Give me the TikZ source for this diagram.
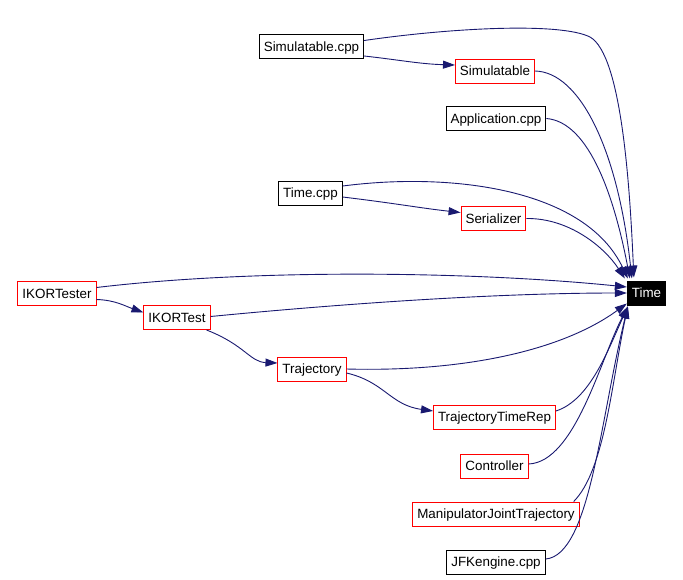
\documentclass[tikz,border=0pt]{standalone}
\usepackage{fontspec}
\setmainfont{Liberation Sans}
\usetikzlibrary{arrows.meta,calc}
\definecolor{edgeblue}{RGB}{25,25,112}
\definecolor{boxred}{RGB}{255,0,0}
\begin{document}
\begin{tikzpicture}[x=1pt,y=-1pt,
  box/.style={draw=black,line width=1pt,fill=white,inner xsep=4.5pt,inner ysep=0pt,
    minimum height=24pt,text height=12pt,text depth=2.4pt,font=\fontsize{13.4}{15}\selectfont},
  redbox/.style={box,draw=boxred},
  timebox/.style={box,fill=black,text=white},
  edge/.style={draw=edgeblue,line width=0.9pt,-{Triangle[length=12pt,width=8pt]}}]
\useasboundingbox (0,0) rectangle (683,579);

\node[box]    (simcpp) at (311.5,46.5) {Simulatable.cpp};
\node[redbox] (sim)    at (495,71)  {Simulatable};
\node[box]    (appcpp) at (496,118.5) {Application.cpp};
\node[box]    (timecpp) at (310.5,193) {Time.cpp};
\node[redbox] (ser)    at (493.5,218.5) {Serializer};
\node[redbox] (ikt)    at (57,293.5) {IKORTester};
\node[redbox] (ik)     at (177,317.5) {IKORTest};
\node[timebox] (time)  at (646.5,293) {Time};
\node[redbox] (traj)   at (312,369) {Trajectory};
\node[redbox] (ttr)    at (494.5,417) {TrajectoryTimeRep};
\node[redbox] (ctrl)   at (494.5,466) {Controller};
\node[redbox] (mjt)    at (496,514) {ManipulatorJointTrajectory};
\node[box]    (jfk)    at (496,562) {JFKengine.cpp};

% to Time, from above
\draw[edge] ([yshift=6pt]simcpp.east) .. controls (450,28) and (560,22) .. (590,37)
  .. controls (622,55) and (630,190) .. ([xshift=7pt,yshift=3pt]time.north west);
\draw[edge] (simcpp.east|-{(0,56)}) .. controls (400,60) and (420,64) .. (sim.west|-{(0,65)});
\draw[edge] (sim.east) .. controls (580,72) and (618,150) .. ([xshift=5pt,yshift=2pt]time.north west);
\draw[edge] (appcpp.east) .. controls (590,122) and (615,200) .. ([xshift=3pt,yshift=2pt]time.north west);
\draw[edge] ([yshift=7pt]timecpp.east) .. controls (450,172) and (585,188) .. ([xshift=1pt,yshift=2pt]time.north west);
\draw[edge] ([yshift=-4pt]timecpp.east) .. controls (400,204) and (420,208) .. ([yshift=6pt]ser.west);
\draw[edge] (ser.east) .. controls (570,218) and (605,248) .. ([xshift=-2pt,yshift=2pt]time.north west);
% from the left
\draw[edge] ([yshift=6pt]ikt.east) .. controls (260,268) and (480,272) .. ([yshift=6pt]time.west);
\draw[edge] ([yshift=-6pt]ikt.east) .. controls (115,300) and (125,306) .. ([yshift=5pt]ik.west);
\draw[edge] ([yshift=1pt]ik.east) .. controls (350,303) and (500,293) .. (time.west);
\draw[edge] ([xshift=-4pt]ik.south east) .. controls (245,345) and (250,362) .. ([yshift=6pt]traj.west);
\draw[edge] (traj.east) .. controls (460,372) and (560,352) .. ([yshift=2pt]time.south west);
\draw[edge] ([yshift=-4pt]traj.east) .. controls (385,382) and (390,405) .. ([yshift=6pt]ttr.west);
% from below
\draw[edge] ([yshift=6pt]ttr.east) .. controls (590,400) and (608,350) .. ([xshift=1pt,yshift=-1pt]time.south west);
\draw[edge] ([yshift=2pt]ctrl.east) .. controls (575,462) and (600,360) .. ([xshift=1pt,yshift=-1pt]time.south west);
\draw[edge] ([xshift=-6pt]mjt.north east) .. controls (605,470) and (612,380) .. ([xshift=1pt,yshift=-1pt]time.south west);
\draw[edge] ([yshift=3pt]jfk.east) .. controls (590,555) and (600,420) .. ([xshift=1pt,yshift=-1pt]time.south west);
\end{tikzpicture}
\end{document}
